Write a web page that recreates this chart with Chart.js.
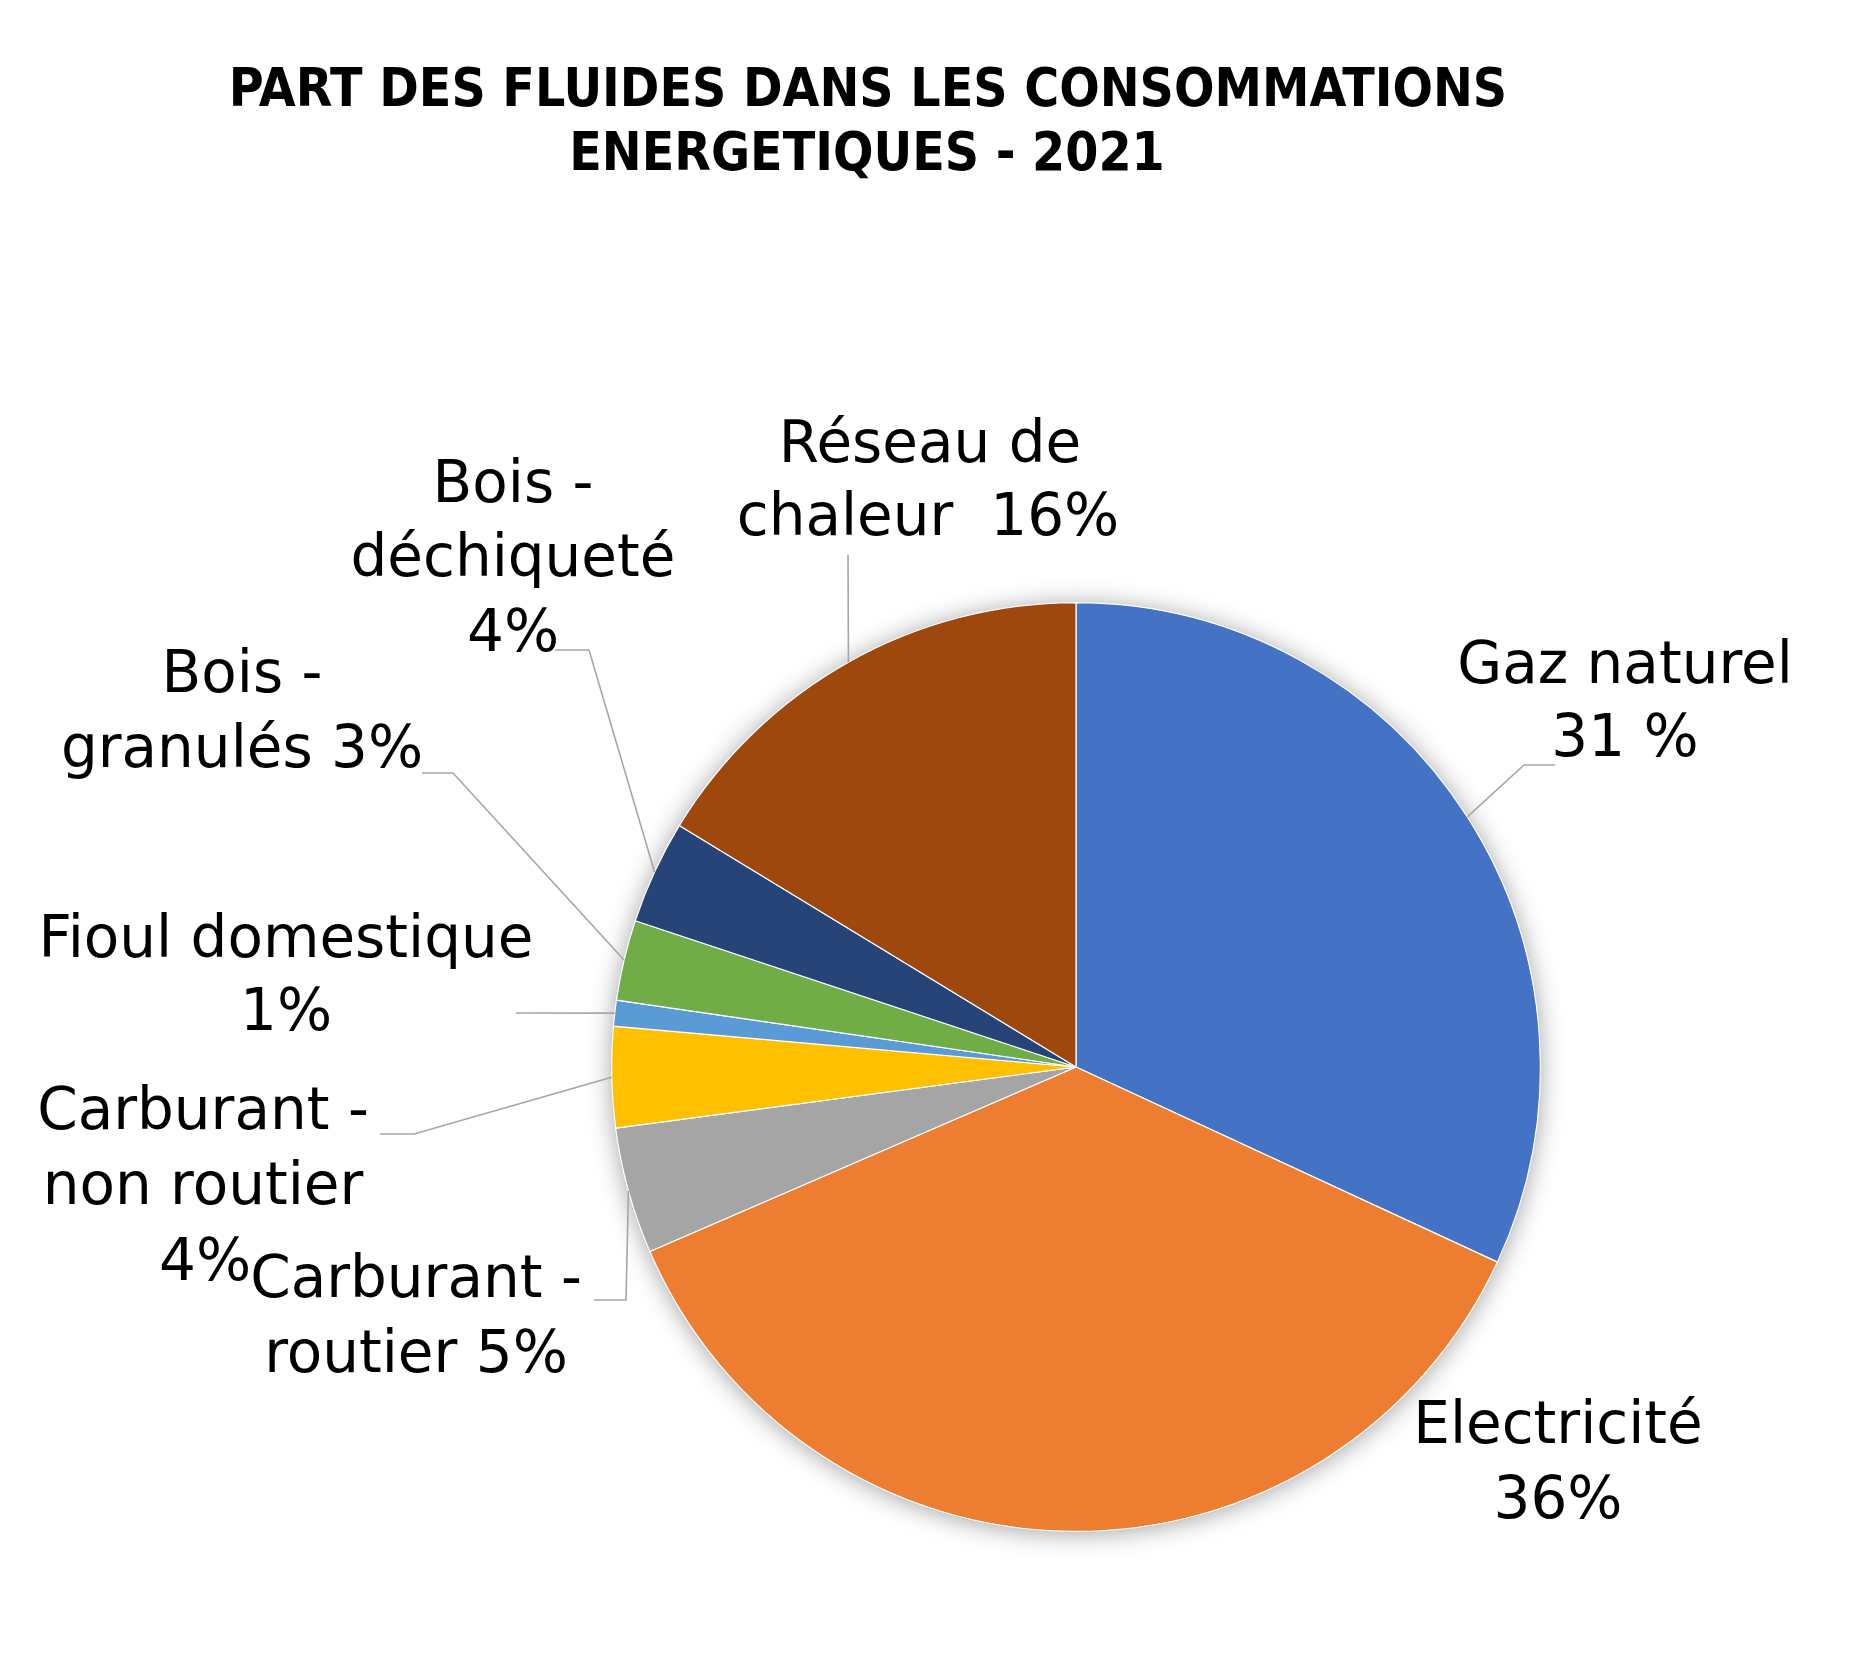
<!DOCTYPE html>
<html><head><meta charset="utf-8">
<script src="https://cdn.jsdelivr.net/npm/chart.js@4.4.1/dist/chart.umd.min.js"></script>
<style>html,body{margin:0;padding:0;background:#fff}#wrap{width:1853px;height:1676px;position:relative}</style>
</head><body><div id="wrap"><canvas id="c" width="1853" height="1676"></canvas></div>
<script>
// ---- data ----
const titleLines = ['PART DES FLUIDES DANS LES CONSOMMATIONS', 'ENERGETIQUES - 2021'];
const categories = ['Gaz naturel', 'Electricité', 'Carburant - routier', 'Carburant - non routier', 'Fioul domestique', 'Bois - granulés', 'Bois - déchiqueté', 'Réseau de chaleur'];
const shares = [31.9, 36.6, 4.4, 3.5, 0.9, 2.8, 3.6, 16.3];
const labelTexts = [
  ['Gaz naturel', '31 %'],
  ['Electricité', '36%'],
  ['Carburant -', 'routier 5%'],
  ['Carburant -', 'non routier', '4%'],
  ['Fioul domestique', '1%'],
  ['Bois -', 'granulés 3%'],
  ['Bois -', 'déchiqueté', '4%'],
  ['Réseau de', 'chaleur  16%']
];
// ---- styles / layout ----
const sliceColors = ['#4472C4', '#ED7D31', '#A5A5A5', '#FFC000', '#5B9BD5', '#70AD47', '#264478', '#9E480E'];
// label anchor positions relative to pie center (text line centers), leader path points after the arc point
const labelLayout = [
  {lines: [[549, -399], [549, -326]], leader: [[448, -302], [479, -302]]},
  {lines: [[482, 361], [482, 436]], leader: null},
  {lines: [[-660, 215], [-660, 290]], leader: [[-450, 233], [-482, 233]]},
  {lines: [[-873, 47], [-873, 122], [-871, 198]], leader: [[-662, 67], [-696, 67]]},
  {lines: [[-790, -125], [-790, -52]], leader: [[-560, -54]]},
  {lines: [[-834, -390], [-834, -315]], leader: [[-623, -294], [-654, -294]]},
  {lines: [[-563, -580], [-563, -506], [-563, -431]], leader: [[-487, -417], [-521, -417]]},
  {lines: [[-146, -620], [-148, -547]], leader: [[-228, -512]]}
];
const LABEL_FONT = '58px "DejaVu Sans"';
const TITLE_FONT = 'bold 53px "DejaVu Sans Condensed"';

const shadowPlugin = {
  id: 'pieShadow',
  beforeDatasetsDraw(chart) {
    const arc = chart.getDatasetMeta(0).data[0];
    if (!arc) return;
    const ctx = chart.ctx;
    ctx.save();
    ctx.shadowColor = 'rgba(0,0,0,0.4)';
    ctx.shadowBlur = 26;
    ctx.shadowOffsetX = 0;
    ctx.shadowOffsetY = 2;
    ctx.beginPath();
    ctx.arc(arc.x, arc.y, arc.outerRadius - 1, 0, Math.PI * 2);
    ctx.fillStyle = '#fff';
    ctx.fill();
    ctx.restore();
  }
};

const labelPlugin = {
  id: 'outerLabels',
  afterDraw(chart) {
    const ctx = chart.ctx;
    const meta = chart.getDatasetMeta(0);
    const cx = meta.data[0].x, cy = meta.data[0].y;
    ctx.save();
    // title
    ctx.fillStyle = '#000';
    ctx.font = TITLE_FONT;
    ctx.textAlign = 'center';
    ctx.textBaseline = 'middle';
    ctx.fillText(titleLines[0], 868, 92);
    ctx.fillText(titleLines[1], 867, 156);
    // leaders
    ctx.strokeStyle = '#A6A6A6';
    ctx.lineWidth = 1.6;
    meta.data.forEach((arc, i) => {
      const lay = labelLayout[i];
      if (!lay.leader) return;
      const mid = (arc.startAngle + arc.endAngle) / 2;
      const r = arc.outerRadius;
      ctx.beginPath();
      ctx.moveTo(arc.x + Math.cos(mid) * r, arc.y + Math.sin(mid) * r);
      lay.leader.forEach(p => ctx.lineTo(cx + p[0], cy + p[1]));
      ctx.stroke();
    });
    // labels
    ctx.fillStyle = '#000';
    ctx.font = LABEL_FONT;
    labelTexts.forEach((lines, i) => {
      lines.forEach((t, j) => {
        const p = labelLayout[i].lines[j];
        ctx.fillText(t, cx + p[0], cy + p[1]);
      });
    });
    ctx.restore();
  }
};

new Chart(document.getElementById('c'), {
  type: 'pie',
  data: {
    labels: categories,
    datasets: [{
      data: shares,
      backgroundColor: sliceColors,
      borderColor: '#ffffff',
      borderWidth: 1.2
    }]
  },
  options: {
    responsive: false,
    devicePixelRatio: 1,
    animation: false,
    layout: {padding: {left: 611, right: 312, top: 602, bottom: 144}},
    plugins: {legend: {display: false}, tooltip: {enabled: false}, title: {display: false}}
  },
  plugins: [shadowPlugin, labelPlugin]
});
</script>
</body></html>
